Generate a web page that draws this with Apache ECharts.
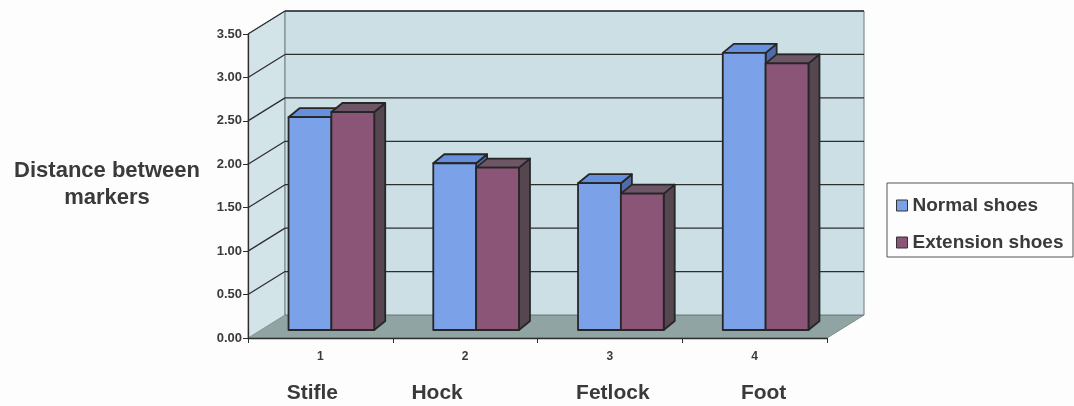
<!DOCTYPE html>
<html>
<head>
<meta charset="utf-8">
<script src="https://cdn.jsdelivr.net/npm/echarts@6/dist/echarts.min.js"></script>
<style>
  html, body { margin: 0; padding: 0; background: #fcfdfc; }
  #chart { width: 1074px; height: 406px; }
</style>
</head>
<body>
<div id="chart"></div>
<script>
// Joint categories and mean distance between markers for each shoe type
const categories = ['1', '2', '3', '4'];
const jointNames = ['Stifle', 'Hock', 'Fetlock', 'Foot'];
const normalShoes = [2.45, 1.92, 1.69, 3.19];
const extensionShoes = [2.51, 1.87, 1.57, 3.07];
const seriesNames = ['Normal shoes', 'Extension shoes'];
const valueTicks = [0, 0.5, 1, 1.5, 2, 2.5, 3, 3.5];

// Pseudo-3D layout: depth of the walls and of the bars, in pixels
const WALL_DX = 37, WALL_DY = -23;
const BAR_FX = 11, BAR_FY = -8;     // front face of bars sits a little behind the front plane
const BAR_DX = 11, BAR_DY = -9;     // bar thickness in depth
const BAR_FRAC = 0.296;             // each bar's width as a share of the category band
const FONT = "'Liberation Sans', Arial, sans-serif";
const INK = '#3a3a3a';

const barStyles = [
  { front: '#7ba2e9', top: '#6690dc', side: '#4f6ca8' },
  { front: '#8b5577', top: '#6e5667', side: '#55464f' }
];

const chart = echarts.init(document.getElementById('chart'), null, { renderer: 'canvas' });

function renderWalls(params, api) {
  const cs = params.coordSys;
  const x0 = cs.x, y0 = cs.y, w = cs.width, h = cs.height, y1 = y0 + h;
  const children = [];
  // floor
  children.push({
    type: 'polygon',
    shape: { points: [[x0, y1], [x0 + WALL_DX, y1 + WALL_DY], [x0 + w + WALL_DX, y1 + WALL_DY], [x0 + w, y1]] },
    style: { fill: '#8fa4a3', stroke: '#7b8e8d', lineWidth: 1 }
  });
  // side wall
  children.push({
    type: 'polygon',
    shape: { points: [[x0, y0], [x0 + WALL_DX, y0 + WALL_DY], [x0 + WALL_DX, y1 + WALL_DY], [x0, y1]] },
    style: { fill: '#d3e4e9', stroke: '#8a9a9c', lineWidth: 1 }
  });
  // back wall
  children.push({
    type: 'rect',
    shape: { x: x0 + WALL_DX, y: y0 + WALL_DY, width: w, height: h },
    style: { fill: '#cbdfe5', stroke: '#6d7a7c', lineWidth: 1 }
  });
  // gridlines on back wall and their diagonals on side wall
  valueTicks.forEach(function (v) {
    if (v === 0) return;
    const y = api.coord([0, v])[1];
    children.push({
      type: 'line',
      shape: { x1: x0 + WALL_DX, y1: y + WALL_DY, x2: x0 + w + WALL_DX, y2: y + WALL_DY },
      style: { stroke: '#2e2e2e', lineWidth: 1.3 }
    });
    children.push({
      type: 'line',
      shape: { x1: x0, y1: y, x2: x0 + WALL_DX, y2: y + WALL_DY },
      style: { stroke: '#2e2e2e', lineWidth: 1.3 }
    });
  });
  return { type: 'group', children: children };
}

function makeBarRenderer(slot) {
  const st = barStyles[slot];
  return function (params, api) {
    const ci = api.value(0), v = api.value(1);
    const topPt = api.coord([ci, v]);
    const basePt = api.coord([ci, 0]);
    const band = api.size([1, 0])[0];
    const bw = band * BAR_FRAC;
    const l = (slot === 0 ? topPt[0] - bw : topPt[0]) + BAR_FX;
    const r = l + bw;
    const t = topPt[1] + BAR_FY;
    const b = basePt[1] + BAR_FY;
    const edge = { stroke: '#262626', lineWidth: 1.8, lineJoin: 'round' };
    return {
      type: 'group',
      children: [
        { type: 'polygon', shape: { points: [[r, t], [r + BAR_DX, t + BAR_DY], [r + BAR_DX, b + BAR_DY], [r, b]] },
          style: Object.assign({ fill: st.side }, edge) },
        { type: 'polygon', shape: { points: [[l, t], [r, t], [r + BAR_DX, t + BAR_DY], [l + BAR_DX, t + BAR_DY]] },
          style: Object.assign({ fill: st.top }, edge) },
        { type: 'rect', shape: { x: l, y: t, width: bw, height: b - t },
          style: Object.assign({ fill: st.front }, edge) }
      ]
    };
  };
}

const option = {
  animation: false,
  backgroundColor: '#fcfdfc',
  grid: { left: 248, right: 247, top: 34, bottom: 68 },
  xAxis: {
    type: 'category',
    data: categories,
    z: 5,
    axisLine: { lineStyle: { color: '#2e2e2e', width: 1.3 } },
    axisTick: { show: true, length: 5, lineStyle: { color: '#2e2e2e' } },
    axisLabel: { margin: 13, fontFamily: FONT, fontSize: 12, fontWeight: 'bold', color: INK },
    splitLine: { show: false }
  },
  yAxis: {
    type: 'value',
    min: 0, max: 3.5, interval: 0.5,
    z: 5,
    axisLine: { show: true, lineStyle: { color: '#2e2e2e', width: 1.3 } },
    axisTick: { show: true, length: 5, lineStyle: { color: '#2e2e2e' } },
    axisLabel: {
      margin: 6, fontFamily: FONT, fontSize: 13, fontWeight: 'bold', color: INK,
      formatter: function (v) { return v.toFixed(2); }
    },
    splitLine: { show: false }
  },
  legend: {
    orient: 'vertical',
    left: 891, top: 191,
    itemGap: 18,
    itemWidth: 11, itemHeight: 11,
    icon: 'rect',
    itemStyle: { borderColor: '#333', borderWidth: 1 },
    textStyle: { fontFamily: FONT, fontSize: 19, fontWeight: 'bold', color: INK },
    data: seriesNames
  },
  series: [
    {
      type: 'custom',
      name: 'walls',
      z: 0,
      silent: true,
      renderItem: renderWalls,
      data: [[0, 0]],
      encode: { x: 0, y: 1 }
    },
    {
      type: 'custom',
      name: seriesNames[0],
      z: 2,
      itemStyle: { color: barStyles[0].front },
      renderItem: makeBarRenderer(0),
      data: normalShoes.map(function (v, i) { return [i, v]; }),
      encode: { x: 0, y: 1 }
    },
    {
      type: 'custom',
      name: seriesNames[1],
      z: 3,
      itemStyle: { color: barStyles[1].front },
      renderItem: makeBarRenderer(1),
      data: extensionShoes.map(function (v, i) { return [i, v]; }),
      encode: { x: 0, y: 1 }
    }
  ]
};
chart.setOption(option);

// Joint names under the axis numbers, nudged from the band centres
const nameShift = [-8, -28, 3, 9];
const graphics = [
  {
    type: 'rect',
    shape: { x: 887, y: 183, width: 186, height: 74 },
    style: { fill: 'rgba(0,0,0,0)', stroke: '#555', lineWidth: 1 },
    z: 10
  },
  {
    type: 'text',
    x: 107, y: 184,
    style: {
      text: 'Distance between\nmarkers',
      align: 'center', verticalAlign: 'middle',
      lineHeight: 27,
      font: 'bold 22px ' + FONT,
      fill: INK
    }
  }
];
jointNames.forEach(function (name, i) {
  const px = chart.convertToPixel({ xAxisIndex: 0 }, categories[i]);
  graphics.push({
    type: 'text',
    x: px + nameShift[i], y: 393,
    style: { text: name, align: 'center', verticalAlign: 'middle', font: 'bold 21px ' + FONT, fill: INK }
  });
});
chart.setOption({ graphic: graphics });
</script>
</body>
</html>
